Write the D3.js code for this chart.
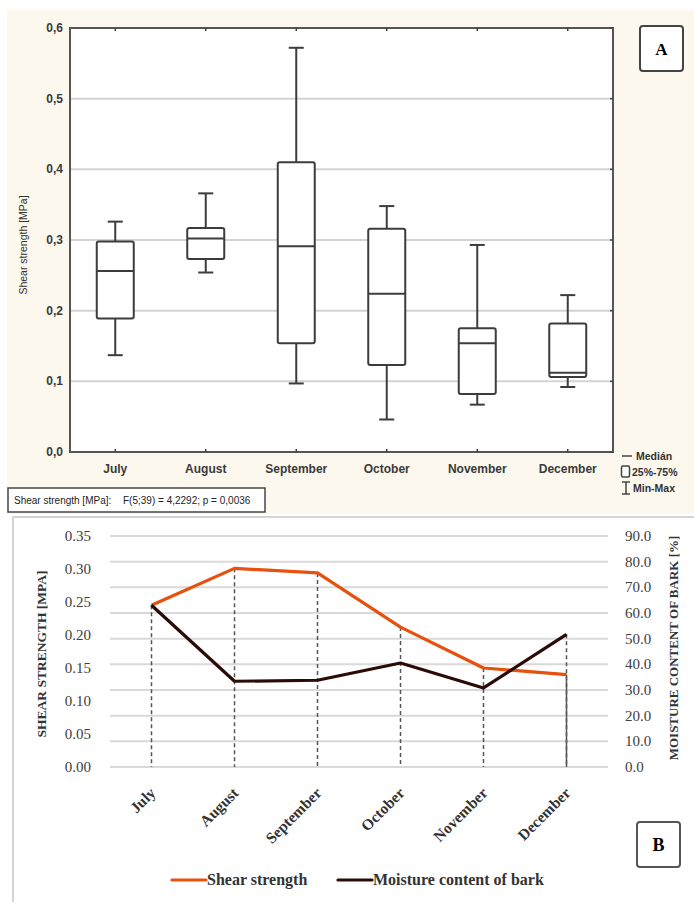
<!DOCTYPE html>
<html>
<head>
<meta charset="utf-8">
<title>Shear strength and bark moisture</title>
<script src="https://d3js.org/d3.v7.min.js"></script>
<style>
  body { margin: 0; background: white; }
  svg { display: block; }
  .sans { font-family: "Liberation Sans", Arial, sans-serif; }
  .serif { font-family: "Liberation Serif", "Times New Roman", serif; }
</style>
</head>
<body>
<script>
// months shared by both panels
var months = ["July", "August", "September", "October", "November", "December"];

// panel A - box plot values (MPa)
var boxMin = [0.137, 0.254, 0.097, 0.046, 0.067, 0.092];
var boxQ1 = [0.189, 0.273, 0.154, 0.123, 0.082, 0.106];
var boxMedian = [0.256, 0.302, 0.291, 0.224, 0.154, 0.112];
var boxQ3 = [0.298, 0.317, 0.410, 0.316, 0.175, 0.182];
var boxMax = [0.326, 0.366, 0.572, 0.348, 0.293, 0.222];
var topTicks = [0, 0.1, 0.2, 0.3, 0.4, 0.5, 0.6];

// panel B - mean shear strength and bark moisture
var shearMean = [0.245, 0.301, 0.294, 0.212, 0.150, 0.140];
var moisture = [63.0, 33.4, 33.8, 40.5, 30.8, 51.7];
var leftTicks = [0, 0.05, 0.10, 0.15, 0.20, 0.25, 0.30, 0.35];
var rightTicks = [0, 10, 20, 30, 40, 50, 60, 70, 80, 90];

var width = 694, height = 902;
var svg = d3.select("body").append("svg")
  .attr("width", width)
  .attr("height", height);

// ---------------- panel A ----------------
svg.append("rect").attr("x", 7).attr("y", 10)
  .attr("width", 687).attr("height", 504)
  .attr("fill", "#fcf8ee");

var topPlot = {left: 70, top: 28, right: 613, bottom: 452};

var xA = d3.scaleBand().domain(months)
  .range([topPlot.left, topPlot.right]);
var yA = d3.scaleLinear().domain([0, 0.6])
  .range([topPlot.bottom, topPlot.top]);

var gA = svg.append("g");

gA.append("rect")
  .attr("x", topPlot.left).attr("y", topPlot.top)
  .attr("width", topPlot.right - topPlot.left)
  .attr("height", topPlot.bottom - topPlot.top)
  .attr("fill", "white");

// grid
gA.selectAll(".grid").data(topTicks.filter(function(d) { return d > 0 && d < 0.6; }))
  .enter().append("line")
  .attr("x1", topPlot.left).attr("x2", topPlot.right)
  .attr("y1", function(d) { return yA(d); })
  .attr("y2", function(d) { return yA(d); })
  .attr("stroke", "#d3d3d3").attr("stroke-width", 2);

// frame
gA.append("rect")
  .attr("x", topPlot.left).attr("y", topPlot.top)
  .attr("width", topPlot.right - topPlot.left)
  .attr("height", topPlot.bottom - topPlot.top)
  .attr("fill", "none").attr("stroke", "#555").attr("stroke-width", 2);

// small ticks on top / bottom / right
months.forEach(function(m) {
  var cx = xA(m) + xA.bandwidth() / 2;
  gA.append("line").attr("x1", cx).attr("x2", cx)
    .attr("y1", topPlot.top).attr("y2", topPlot.top + 3)
    .attr("stroke", "#444").attr("stroke-width", 1.5);
  gA.append("line").attr("x1", cx).attr("x2", cx)
    .attr("y1", topPlot.bottom).attr("y2", topPlot.bottom - 3)
    .attr("stroke", "#444").attr("stroke-width", 1.5);
});
topTicks.forEach(function(t) {
  gA.append("line").attr("x1", topPlot.right).attr("x2", topPlot.right - 3)
    .attr("y1", yA(t)).attr("y2", yA(t))
    .attr("stroke", "#444").attr("stroke-width", 1.5);
});

// y tick labels
gA.selectAll(".ytl").data(topTicks).enter().append("text")
  .attr("class", "sans")
  .attr("x", topPlot.left - 7)
  .attr("y", function(d) { return yA(d) + 4; })
  .attr("text-anchor", "end")
  .attr("font-size", 12).attr("font-weight", "bold").attr("fill", "#3a3a3a")
  .text(function(d) { return d.toFixed(1).replace(".", ","); });

// x tick labels
gA.selectAll(".xtl").data(months).enter().append("text")
  .attr("class", "sans")
  .attr("x", function(d) { return xA(d) + xA.bandwidth() / 2; })
  .attr("y", 473)
  .attr("text-anchor", "middle")
  .attr("font-size", 12).attr("font-weight", "bold").attr("fill", "#3a3a3a")
  .text(function(d) { return d; });

// y title
gA.append("text").attr("class", "sans")
  .attr("transform", "translate(27,245) rotate(-90)")
  .attr("text-anchor", "middle")
  .attr("font-size", 10.5).attr("fill", "#333")
  .text("Shear strength [MPa]");

// boxes
var boxW = 37, capW = 15;
months.forEach(function(m, i) {
  var cx = xA(m) + xA.bandwidth() / 2;
  var g = gA.append("g").attr("stroke", "#3c3c3c").attr("stroke-width", 2).attr("fill", "none");
  g.append("line").attr("x1", cx).attr("x2", cx)
    .attr("y1", yA(boxMax[i])).attr("y2", yA(boxQ3[i]));
  g.append("line").attr("x1", cx).attr("x2", cx)
    .attr("y1", yA(boxQ1[i])).attr("y2", yA(boxMin[i]));
  g.append("line").attr("x1", cx - capW / 2).attr("x2", cx + capW / 2)
    .attr("y1", yA(boxMax[i])).attr("y2", yA(boxMax[i]));
  g.append("line").attr("x1", cx - capW / 2).attr("x2", cx + capW / 2)
    .attr("y1", yA(boxMin[i])).attr("y2", yA(boxMin[i]));
  g.append("rect").attr("x", cx - boxW / 2).attr("y", yA(boxQ3[i]))
    .attr("width", boxW).attr("height", yA(boxQ1[i]) - yA(boxQ3[i]))
    .attr("rx", 2).attr("fill", "white");
  g.append("line").attr("x1", cx - boxW / 2).attr("x2", cx + boxW / 2)
    .attr("y1", yA(boxMedian[i])).attr("y2", yA(boxMedian[i]));
});

// "A" label
svg.append("rect").attr("x", 640).attr("y", 26).attr("width", 43).attr("height", 45)
  .attr("rx", 3).attr("fill", "white").attr("stroke", "#444").attr("stroke-width", 2);
svg.append("text").attr("class", "serif").attr("x", 661.5).attr("y", 55)
  .attr("text-anchor", "middle").attr("font-size", 17).attr("font-weight", "bold")
  .text("A");

// legend (top right)
var lg = svg.append("g").attr("class", "sans").attr("font-size", 10.5)
  .attr("font-weight", "bold").attr("fill", "#333");
lg.append("line").attr("x1", 622).attr("x2", 632).attr("y1", 456).attr("y2", 456)
  .attr("stroke", "#444").attr("stroke-width", 1.5);
lg.append("text").attr("x", 636).attr("y", 460).text("Medián");
lg.append("rect").attr("x", 621.5).attr("y", 466).attr("width", 8).attr("height", 11)
  .attr("rx", 1.5).attr("fill", "white").attr("stroke", "#444").attr("stroke-width", 1.5);
lg.append("text").attr("x", 632).attr("y", 476).text("25%-75%");
lg.append("line").attr("x1", 626).attr("x2", 626).attr("y1", 482).attr("y2", 494)
  .attr("stroke", "#444").attr("stroke-width", 1.5);
lg.append("line").attr("x1", 622).attr("x2", 630).attr("y1", 482).attr("y2", 482)
  .attr("stroke", "#444").attr("stroke-width", 1.5);
lg.append("line").attr("x1", 622).attr("x2", 630).attr("y1", 494).attr("y2", 494)
  .attr("stroke", "#444").attr("stroke-width", 1.5);
lg.append("text").attr("x", 633).attr("y", 492).text("Min-Max");

// stats box
svg.append("rect").attr("x", 8).attr("y", 488).attr("width", 257).attr("height", 24)
  .attr("fill", "white").attr("stroke", "#444").attr("stroke-width", 1.5);
svg.append("text").attr("class", "sans").attr("x", 14).attr("y", 504)
  .attr("font-size", 10).attr("fill", "#222").text("Shear strength [MPa]:");
svg.append("text").attr("class", "sans").attr("x", 123).attr("y", 504)
  .attr("font-size", 10).attr("fill", "#222").text("F(5;39) = 4,2292; p = 0,0036");

// ---------------- panel B ----------------
svg.append("rect").attr("x", 13).attr("y", 517).attr("width", 700).attr("height", 400)
  .attr("fill", "white").attr("stroke", "#d4d4d4").attr("stroke-width", 2);

var botPlot = {left: 110, top: 536, right: 608, bottom: 767};

var xB = d3.scaleBand().domain(months).range([botPlot.left, botPlot.right]);
var yL = d3.scaleLinear().domain([0, 0.35]).range([botPlot.bottom, botPlot.top]);
var yR = d3.scaleLinear().domain([0, 90]).range([botPlot.bottom, botPlot.top]);
function cxB(m) { return xB(m) + xB.bandwidth() / 2; }

var gB = svg.append("g");

gB.selectAll(".gridB").data(rightTicks).enter().append("line")
  .attr("x1", botPlot.left).attr("x2", botPlot.right)
  .attr("y1", function(d) { return yR(d); })
  .attr("y2", function(d) { return yR(d); })
  .attr("stroke", "#d9d9d9").attr("stroke-width", 2);

gB.selectAll(".ltl").data(leftTicks).enter().append("text")
  .attr("class", "serif")
  .attr("x", 91).attr("y", function(d) { return yL(d) + 5; })
  .attr("text-anchor", "end").attr("font-size", 15).attr("fill", "#404040")
  .text(function(d) { return d.toFixed(2); });

gB.selectAll(".rtl").data(rightTicks).enter().append("text")
  .attr("class", "serif")
  .attr("x", 625).attr("y", function(d) { return yR(d) + 5; })
  .attr("text-anchor", "start").attr("font-size", 15).attr("fill", "#404040")
  .text(function(d) { return d.toFixed(1); });

gB.append("text").attr("class", "serif")
  .attr("transform", "translate(46,654) rotate(-90)")
  .attr("text-anchor", "middle").attr("font-size", 13.5).attr("font-weight", "bold")
  .attr("fill", "#333").text("SHEAR STRENGTH [MPA]");

gB.append("text").attr("class", "serif")
  .attr("transform", "translate(678,648) rotate(-90)")
  .attr("text-anchor", "middle").attr("font-size", 13).attr("font-weight", "bold")
  .attr("fill", "#333").text("MOISTURE CONTENT OF BARK [%]");

// drop lines
months.forEach(function(m, i) {
  var top = Math.min(yL(shearMean[i]), yR(moisture[i]));
  gB.append("line").attr("x1", cxB(m)).attr("x2", cxB(m))
    .attr("y1", top).attr("y2", botPlot.bottom)
    .attr("stroke", "#555").attr("stroke-width", 1.5).attr("stroke-dasharray", "4,3");
  if (yR(moisture[i]) < yL(shearMean[i])) {
    gB.append("line").attr("x1", cxB(m)).attr("x2", cxB(m))
      .attr("y1", yL(shearMean[i])).attr("y2", botPlot.bottom)
      .attr("stroke", "#555").attr("stroke-width", 1.5);
  }
});

var lineShear = d3.line()
  .x(function(d, i) { return cxB(months[i]); })
  .y(function(d) { return yL(d); });
var lineMoist = d3.line()
  .x(function(d, i) { return cxB(months[i]); })
  .y(function(d) { return yR(d); });

gB.append("path").datum(shearMean).attr("d", lineShear)
  .attr("fill", "none").attr("stroke", "#e5520e").attr("stroke-width", 3.2)
  .attr("stroke-linejoin", "round");
gB.append("path").datum(moisture).attr("d", lineMoist)
  .attr("fill", "none").attr("stroke", "#2a0b06").attr("stroke-width", 3.2)
  .attr("stroke-linejoin", "round");

// rotated month labels
gB.selectAll(".xlb").data(months).enter().append("text")
  .attr("class", "serif")
  .attr("transform", function(d) { return "translate(" + (cxB(d) + 5) + ",794) rotate(-45)"; })
  .attr("text-anchor", "end").attr("font-size", 15.5).attr("font-weight", "bold")
  .attr("fill", "#333").text(function(d) { return d; });

// legend bottom
var lb = svg.append("g").attr("class", "serif").attr("font-size", 16)
  .attr("font-weight", "bold").attr("fill", "#333");
lb.append("line").attr("x1", 172).attr("x2", 206).attr("y1", 880).attr("y2", 880)
  .attr("stroke", "#e5520e").attr("stroke-width", 3.2).attr("stroke-linecap", "round");
lb.append("text").attr("x", 207).attr("y", 885).text("Shear strength");
lb.append("line").attr("x1", 338).attr("x2", 372).attr("y1", 880).attr("y2", 880)
  .attr("stroke", "#2a0b06").attr("stroke-width", 3.2).attr("stroke-linecap", "round");
lb.append("text").attr("x", 373).attr("y", 885).text("Moisture content of bark");

// "B" label
svg.append("rect").attr("x", 637).attr("y", 822).attr("width", 43).attr("height", 45)
  .attr("rx", 3).attr("fill", "white").attr("stroke", "#555").attr("stroke-width", 2);
svg.append("text").attr("class", "serif").attr("x", 658.5).attr("y", 851)
  .attr("text-anchor", "middle").attr("font-size", 18).attr("font-weight", "bold")
  .text("B");
</script>
</body>
</html>
